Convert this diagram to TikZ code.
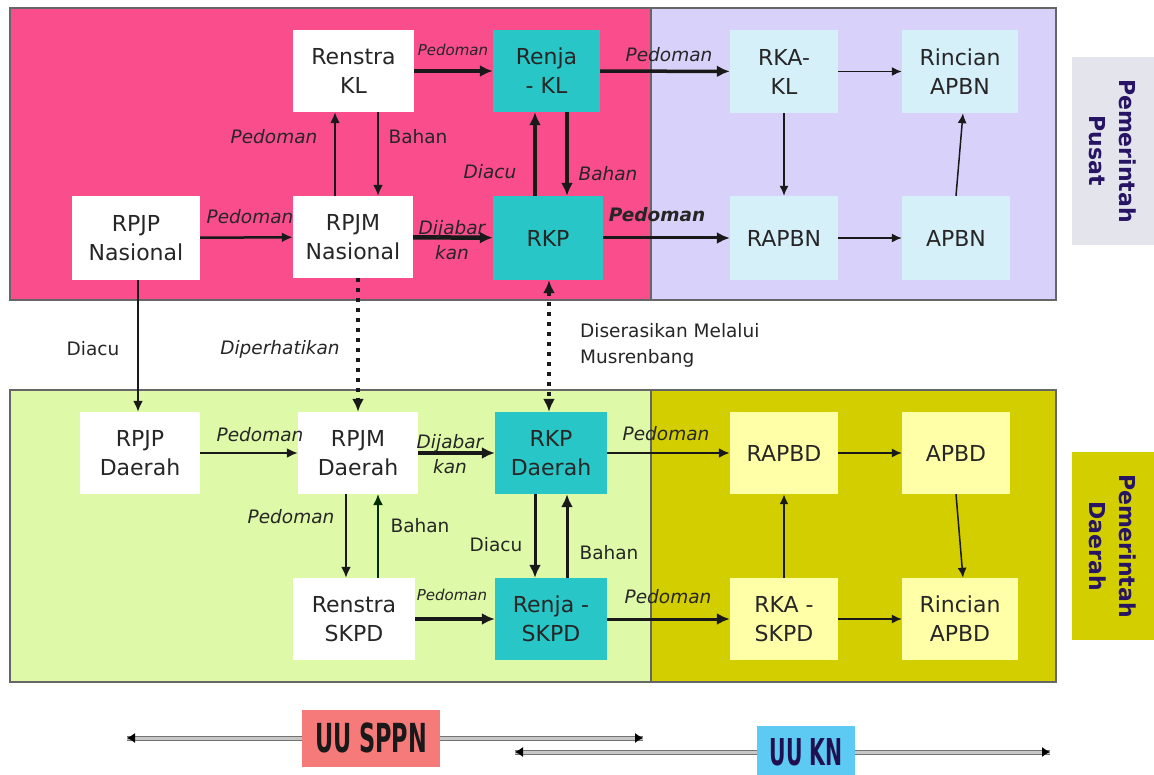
\documentclass[tikz,border=0pt]{standalone}
\usepackage{fontspec}
\usepackage{graphicx}
\setmainfont{DejaVu Sans}
\usetikzlibrary{arrows.meta}
\definecolor{pinkbg}{RGB}{250,78,140}
\definecolor{lavbg}{RGB}{216,210,250}
\definecolor{greenbg}{RGB}{222,250,168}
\definecolor{olivebg}{RGB}{210,206,0}
\definecolor{cyanbox}{RGB}{40,198,198}
\definecolor{lcybox}{RGB}{214,240,250}
\definecolor{lylbox}{RGB}{255,255,168}
\definecolor{graybox}{RGB}{228,228,236}
\definecolor{navy}{RGB}{40,20,100}
\definecolor{sppn}{RGB}{246,122,122}
\definecolor{kn}{RGB}{92,202,242}
\begin{document}
\begin{tikzpicture}[x=1pt,y=-1pt,
  nd/.style={rectangle, inner sep=0pt, align=center, text=black!85,
    font=\fontsize{22}{29}\selectfont, minimum height=82},
  wht/.style={nd, fill=white},
  cyn/.style={nd, fill=cyanbox},
  lcy/.style={nd, fill=lcybox},
  lyl/.style={nd, fill=lylbox},
  lbl/.style={font=\fontsize{18.5}{24}\selectfont, text=black!85, inner sep=0pt, align=left},
  ilbl/.style={lbl, font=\fontsize{18.5}{24}\selectfont\itshape},
  slbl/.style={lbl, font=\fontsize{15}{20}\selectfont\itshape},
  arr/.style={-{Latex[length=11,width=10]}, line width=2, draw=black!90},
  tarr/.style={arr, line width=3.5, -{Latex[length=13,width=12]}},
  narr/.style={-{Latex[length=10,width=9]}, line width=1.5, draw=black!90},
  dotline/.style={line width=4, dash pattern=on 4pt off 6pt, draw=black!90},
  region/.style={draw=black!60, line width=1.5},
  side/.style={font=\fontsize{22}{30}\selectfont\bfseries, text=navy, align=center, rotate=-90}
]
\useasboundingbox (0,0) rectangle (1154,775);
\fill[white] (0,0) rectangle (1154,775);

% regions
\path[region, fill=pinkbg] (10,8) rectangle (651,300);
\path[region, fill=lavbg] (651,8) rectangle (1056,300);
\path[region, fill=greenbg] (10,390) rectangle (651,682);
\path[region, fill=olivebg] (651,390) rectangle (1056,682);

% side labels
\node[fill=graybox, minimum width=82, minimum height=188, inner sep=0pt] (pusatbox) at (1113,151) {};
\node[side] (pusat) at (pusatbox) {Pemerintah\\Pusat};
\node[fill=olivebg, minimum width=82, minimum height=188, inner sep=0pt] (daerahbox) at (1113,546) {};
\node[side] (daerah) at (daerahbox) {Pemerintah\\Daerah};

% top nodes
\node[wht, minimum width=121] (renkl) at (353.5,71) {Renstra\\KL};
\node[cyn, minimum width=107] (renjakl) at (546.5,71) {Renja\\- KL};
\node[lcy, minimum width=108, minimum height=83] (rkakl) at (784,71.5) {RKA-\\KL};
\node[lcy, minimum width=116, minimum height=83] (rincapbn) at (960,71.5) {Rincian\\APBN};
\node[wht, minimum width=128, minimum height=84] (rpjpn) at (136,238) {RPJP\\Nasional};
\node[wht, minimum width=120] (rpjmn) at (353,237) {RPJM\\Nasional};
\node[cyn, minimum width=110, minimum height=84] (rkp) at (548,238) {RKP};
\node[lcy, minimum width=108, minimum height=84] (rapbn) at (784,238) {RAPBN};
\node[lcy, minimum width=108, minimum height=84] (apbn) at (956,238) {APBN};

% bottom nodes
\node[wht, minimum width=120] (rpjpd) at (140,453) {RPJP\\Daerah};
\node[wht, minimum width=120] (rpjmd) at (358,453) {RPJM\\Daerah};
\node[cyn, minimum width=112] (rkpd) at (551,453) {RKP\\Daerah};
\node[lyl, minimum width=108] (rapbd) at (784,453) {RAPBD};
\node[lyl, minimum width=108] (apbd) at (956,453) {APBD};
\node[wht, minimum width=122] (renskpd) at (354,619) {Renstra\\SKPD};
\node[cyn, minimum width=112] (renjaskpd) at (551,619) {Renja -\\SKPD};
\node[lyl, minimum width=108] (rkaskpd) at (784,619) {RKA -\\SKPD};
\node[lyl, minimum width=116] (rincapbd) at (960,619) {Rincian\\APBD};

% top connectors
\draw[tarr] (renkl) -- (renjakl);
\node[slbl] (l1) at (453,50) {Pedoman};
\draw[tarr] (renjakl) -- (rkakl);
\node[ilbl] (l2) at (669,55) {Pedoman};
\draw[narr] (rkakl) -- (rincapbn);
\draw[narr] (rkakl) -- (rapbn);
\draw[narr] (rapbn) -- (apbn);
\draw[narr] (apbn.north) -- ([xshift=3]rincapbn.south);
\draw[tarr, line width=3] (rkp) -- (rapbn);
\node[lbl, font=\fontsize{18.5}{24}\selectfont\bfseries\itshape] (l3) at (657,215) {Pedoman};
\draw[arr, line width=2.5] (rpjpn) -- (rpjmn);
\node[ilbl] (l4) at (250,217) {Pedoman};
\draw[arr] ([xshift=-18]rpjmn.north) -- ([xshift=-18]rpjmn.north |- renkl.south);
\node[ilbl] (l5) at (274,137) {Pedoman};
\draw[arr] ([xshift=25]rpjmn.north |- renkl.south) -- ([xshift=25]rpjmn.north);
\node[lbl] (l6) at (418,137) {Bahan};
\draw[tarr, line width=4.5] (rpjmn) -- (rkp);
\node[ilbl, align=center, font=\fontsize{18.5}{25}\selectfont\itshape] (l7) at (452,240) {Dijabar\\kan};
\draw[tarr] ([xshift=-13]rkp.north) -- ([xshift=-13]rkp.north |- renjakl.south);
\node[ilbl] (l8) at (490,172) {Diacu};
\draw[tarr] ([xshift=19]rkp.north |- renjakl.south) -- ([xshift=19]rkp.north);
\node[ilbl] (l9) at (608,174) {Bahan};

% between regions
\draw[arr] ([xshift=2]rpjpn.south) -- ([xshift=2]rpjpn.south |- rpjpd.north);
\node[lbl] (l10) at (93,349) {Diacu};
\draw[dotline, -{Latex[length=13,width=12]}] (rpjmd.north |- rpjmn.south) -- (rpjmd.north);
\node[ilbl] (l11) at (280,349) {Diperhatikan};
\draw[dotline, {Latex[length=13,width=12]}-{Latex[length=13,width=12]}] ([xshift=1]rkp.south) -- ([xshift=1]rkp.south |- rkpd.north);
\node[lbl, anchor=west, font=\fontsize{18.5}{26}\selectfont] (l12) at (580,345) {Diserasikan Melalui\\Musrenbang};

% bottom connectors
\draw[arr] (rpjpd) -- (rpjmd);
\node[ilbl] (l13) at (260,435) {Pedoman};
\draw[tarr, line width=4.5] (rpjmd) -- (rkpd);
\node[ilbl, align=center, font=\fontsize{18.5}{25}\selectfont\itshape] (l14) at (450,454) {Dijabar\\kan};
\draw[arr, line width=2.5] (rkpd) -- (rapbd);
\node[ilbl] (l15) at (666,434) {Pedoman};
\draw[arr] ([xshift=-12]rpjmd.south) -- ([xshift=-12]rpjmd.south |- renskpd.north);
\node[ilbl] (l16) at (291,517) {Pedoman};
\draw[arr, draw=black!70!green!60!black, line width=1.5] ([xshift=20]rpjmd.south |- renskpd.north) -- ([xshift=20]rpjmd.south);
\node[lbl] (l17) at (420,526) {Bahan};
\draw[tarr, line width=3] ([xshift=-16]rkpd.south) -- ([xshift=-16]rkpd.south |- renjaskpd.north);
\node[lbl] (l18) at (496,545) {Diacu};
\draw[tarr, line width=3] ([xshift=16]rkpd.south |- renjaskpd.north) -- ([xshift=16]rkpd.south);
\node[lbl] (l19) at (609,553) {Bahan};
\draw[tarr] (renskpd) -- (renjaskpd);
\node[slbl] (l20) at (452,595) {Pedoman};
\draw[tarr, line width=3] (renjaskpd) -- (rkaskpd);
\node[ilbl] (l21) at (668,597) {Pedoman};
\draw[narr, line width=2] (rkaskpd) -- (rapbd);
\draw[narr] (rapbd) -- (apbd);
\draw[narr] (apbd.south) -- ([xshift=3]rincapbd.north);
\draw[narr] (rkaskpd) -- (rincapbd);

% legend
\coordinate (a1) at (127,738);
\coordinate (a2) at (643,738);
\coordinate (b1) at (515,752);
\coordinate (b2) at (1050,752);
\draw[line width=5, black!55] (a1) -- (a2);
\draw[line width=3, black!22] (a1) -- (a2);
\draw[line width=5, black!55] (b1) -- (b2);
\draw[line width=3, black!22] (b1) -- (b2);
\draw[-{Latex[length=8,width=10]}, line width=1, black] ([xshift=6]a1) -- (a1);
\draw[-{Latex[length=8,width=10]}, line width=1, black] ([xshift=-6]a2) -- (a2);
\draw[-{Latex[length=8,width=10]}, line width=1, black] ([xshift=6]b1) -- (b1);
\draw[-{Latex[length=8,width=10]}, line width=1, black] ([xshift=-6]b2) -- (b2);
\node[fill=sppn, minimum width=138, minimum height=57, inner sep=0pt,
  font=\fontsize{40}{44}\selectfont\bfseries, text=black!90] (uusppn) at (371,738) {\scalebox{0.56}[1]{UU SPPN}};
\node[fill=kn, minimum width=98, minimum height=52, inner sep=0pt,
  font=\fontsize{37}{40}\selectfont\bfseries, text=navy!80!black] (uukn) at (806,752) {\scalebox{0.55}[1]{UU KN}};
\end{tikzpicture}
\end{document}
